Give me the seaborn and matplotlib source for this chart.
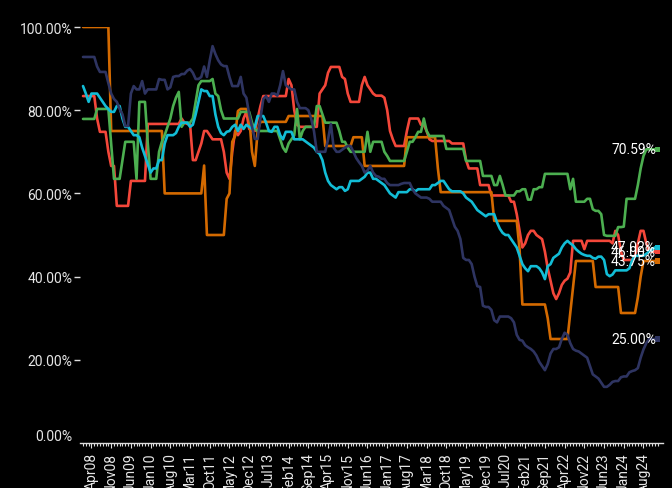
import matplotlib
matplotlib.use("Agg")
import matplotlib.pyplot as plt
import seaborn as sns
import pandas as pd
import numpy as np

# ---------------- data (monthly, Jan 2008 -> Jan 2025) ----------------
start_month = "2008-01"
n_months = 205

orange_vals = [
    100, 100, 100, 100, 100, 100, 100, 100, 100, 100,
    75, 75, 75, 75, 75, 75, 75, 75, 75, 75,
    75, 75, 75, 75, 75, 75, 75, 75, 75, 60,
    60, 60, 60, 60, 60, 60, 60, 60, 60, 60,
    60, 60, 60, 66.7, 50, 50, 50, 50, 50, 50,
    50, 58.7, 60, 72.4, 73.8, 79.8, 80.3, 80.3, 80.3, 78.4,
    70, 66.6, 75, 77.2, 77.2, 77.2, 77.2, 77.2, 77.2, 77.2,
    77.2, 77.2, 77.2, 78.6, 78.6, 78.6, 78.6, 78.6, 78.6, 78.6,
    78.6, 78.6, 78.6, 78.6, 78.6, 78.6, 71.4, 71.4, 71.4, 71.4,
    71.4, 71.4, 71.4, 71.4, 71.4, 71.4, 73.5, 73.5, 73.5, 73.5,
    66.6, 66.6, 66.6, 66.6, 66.6, 66.6, 66.6, 66.6, 66.6, 66.6,
    66.6, 66.6, 66.6, 66.6, 66.6, 73.5, 73.5, 73.5, 73.5, 73.5,
    73.5, 73.5, 73.5, 73.5, 73.5, 73.5, 66, 60.3, 60.3, 60.3,
    60.3, 60.3, 60.3, 60.3, 60.3, 60.3, 60.3, 60.3, 60.3, 60.3,
    60.3, 60.3, 60.3, 60.3, 60.3, 60.3, 53.4, 53.4, 53.4, 53.4,
    53.4, 53.4, 53.4, 53.4, 53.4, 46.6, 33.3, 33.3, 33.3, 33.3,
    33.3, 33.3, 33.3, 33.3, 33.3, 30, 25, 25, 25, 25,
    25, 25, 25, 31.3, 37.5, 43.75, 43.75, 43.75, 43.75, 43.75,
    43.75, 43.75, 37.5, 37.5, 37.5, 37.5, 37.5, 37.5, 37.5, 37.5,
    37.5, 31.25, 31.25, 31.25, 31.25, 31.25, 31.25, 35, 40, 43.75,
    43.75, 43.75, 43.75, 43.75, 43.75,
]

red_vals = [
    83.4, 83.4, 83.4, 83.4, 83.4, 78, 74.8, 74.8, 74.8, 70,
    66.6, 66.6, 57, 57, 57, 57, 57, 63, 63, 63,
    63, 63, 63, 76.7, 76.7, 76.7, 76.7, 76.7, 76.7, 76.7,
    76.7, 76.7, 76.7, 76.7, 76.7, 78, 77, 76.7, 76.7, 68,
    68, 70, 72, 75, 75, 74, 73, 73, 73, 73,
    70, 65, 63.5, 70, 75, 74, 75, 78, 79.6, 75.5,
    75, 75, 78, 81, 83.4, 83.4, 83.4, 83.4, 83.4, 83.4,
    83.4, 83.4, 83.4, 87.5, 86, 80, 76.5, 76, 76, 76,
    76, 76, 76, 76, 84, 85, 86, 89, 90.4, 90.4,
    90.4, 90.4, 88, 87.5, 84, 82, 82, 82, 82, 86,
    88, 86, 85, 84, 83.5, 83.5, 83.5, 83, 80, 75,
    73, 71.4, 71.4, 71.4, 71.4, 75, 78, 78, 78, 78,
    76.5, 76.5, 75, 73, 72.6, 72.6, 72.6, 72.6, 72.6, 72.6,
    72.6, 72, 72, 72, 72, 72, 68, 66, 66, 66,
    66, 62, 62, 62, 62, 59.5, 59.5, 59.5, 59.5, 59.5,
    59.5, 59.5, 58, 58, 55, 51, 47, 48, 50, 51,
    51, 50, 49.5, 49, 46, 42, 39, 36, 34.6, 36,
    38, 39, 39.5, 41, 48.6, 48.6, 48.6, 48.6, 46.6, 48.6,
    48.6, 48.6, 48.6, 48.6, 48.6, 48.6, 48.6, 48.6, 48, 51,
    50, 46, 44, 44, 44, 44, 45, 48, 51, 51,
    48, 46, 46, 46, 46,
]

green_vals = [
    77.9, 77.9, 77.9, 77.9, 77.9, 80.3, 80.3, 80.3, 80.3, 80.3,
    72, 63.5, 63.5, 63.5, 68, 72.4, 72.4, 72.4, 72.4, 63.5,
    82, 82, 82, 72, 63.5, 63.5, 63.5, 70, 72.4, 74,
    76, 78, 81, 83, 84.4, 76, 77, 77, 77, 78,
    82, 86, 87, 87, 87, 87, 87.5, 84, 83.4, 80,
    78, 78, 78, 78, 78, 78, 79.6, 79.6, 79.6, 79.6,
    77, 75.5, 75, 75, 75, 75, 75, 75, 75, 75,
    73, 71, 70, 72, 73, 74, 80.3, 73, 75, 76,
    76, 76, 76, 81, 81, 79, 77, 77, 77, 77,
    77, 75, 72.4, 72.4, 71, 70, 70, 70, 70, 70,
    70, 74.8, 70, 72.4, 72.4, 72.4, 72.4, 70, 69, 67.8,
    67.8, 67.8, 67.8, 67.8, 67.8, 70, 72.4, 72.4, 73.5, 74.8,
    74.8, 78, 75, 73.8, 73.8, 73.8, 73.8, 73.8, 73.8, 70.7,
    70.7, 70.7, 70.7, 70.7, 70.7, 70.7, 67.8, 67.8, 67.8, 67.8,
    67.8, 67.8, 64.2, 64.2, 64.2, 64.2, 62, 62, 64.2, 62,
    59.5, 59.5, 59.5, 59.5, 60.5, 60.5, 61, 61, 58.5, 58.5,
    61, 61, 61.5, 61.5, 64.7, 64.7, 64.7, 64.7, 64.7, 64.7,
    64.7, 64.7, 64.7, 61, 63.5, 58, 58, 58, 58, 58.7,
    58.7, 56.2, 55.8, 55.8, 55, 50, 49.8, 49.8, 49.8, 49.8,
    51.9, 51.9, 52, 58.7, 58.7, 58.7, 58.7, 62, 66, 69,
    70.59, 70.59, 70.59, 70.59, 70.59,
]

cyan_vals = [
    85.8, 84, 82, 84, 84, 84, 83, 82, 81, 80.3,
    79.6, 79.6, 81, 81, 78, 76, 76, 75, 74, 74,
    73.5, 71, 69, 67, 65, 66, 66, 68, 68, 72,
    74, 74, 74, 74.5, 76, 77, 77, 77, 76, 76.5,
    79, 82, 85, 84.6, 84.6, 83.4, 83.4, 79, 76, 74.5,
    74, 74.8, 75, 76, 76.5, 75, 76.5, 75.5, 76.5, 76,
    75.5, 76, 78.6, 78.6, 78.6, 77, 75, 74.8, 76, 76,
    74, 73, 74.8, 74.8, 74.8, 73, 73, 73, 73, 72.5,
    72, 71.5, 71, 70, 69.5, 68, 65, 63, 62, 61.5,
    61, 61.5, 61.5, 60.6, 61, 63, 63, 63, 63, 63.5,
    64, 65, 65, 63.5, 63.5, 63, 62.5, 62, 61, 60,
    59.5, 59, 60.3, 60.3, 60.3, 60.3, 61, 61, 60.5, 61,
    61, 61, 61, 61, 62, 62, 62.5, 63, 63, 62,
    61, 60.5, 60.5, 60.5, 60.5, 60, 59, 58.5, 58, 57,
    56, 55.5, 55, 54.5, 55, 55, 55, 53, 51.5, 50.5,
    50, 50, 49, 48, 47, 45, 43, 42, 41.3, 42.5,
    42.5, 42.5, 42, 41, 39.4, 42.5, 43, 44.5, 45, 45.5,
    47, 48, 48.6, 48, 47.5, 46.6, 46, 45.5, 45.2, 45,
    45, 44.5, 44.3, 44.8, 44.8, 44, 40.6, 40.1, 40.5, 41.5,
    41.5, 41.5, 41.5, 41.5, 42, 44, 45, 45, 45, 45,
    45.5, 46, 46.5, 47, 47.02,
]

navy_vals = [
    92.8, 92.8, 92.8, 92.8, 92.8, 90.5, 89.2, 89.2, 89.2, 86.5,
    84, 82.7, 82, 80.3, 79, 76.2, 76.2, 84, 85.8, 85,
    85, 87, 84, 85, 85, 85, 85, 87.5, 87.3, 87.3,
    85, 85.5, 88, 88.2, 88.2, 88.7, 88.7, 89.5, 89.9, 89,
    87.5, 87.5, 88, 90.5, 88, 92, 95.4, 93.5, 92, 91,
    90.6, 90.6, 88, 85.8, 85.8, 85.8, 88, 84, 83, 79,
    76, 73.1, 73.1, 78, 82.7, 83.4, 82, 84, 84, 83.5,
    86, 89.4, 86, 85.5, 85, 85, 82, 80.5, 80.5, 80.5,
    80, 78, 75, 70, 70, 70, 70, 73, 76.7, 71,
    70, 70, 70.5, 71, 71.4, 71.4, 70, 68.5, 67.5, 66.6,
    65, 65.5, 66.6, 65, 64.2, 64, 63.5, 63.5, 62.5, 62,
    62, 62, 62, 62.3, 62.5, 62.5, 62.5, 61, 60, 59.5,
    59, 59, 59, 58.7, 58, 58, 58, 58, 57, 56.5,
    56, 54, 52, 51, 49, 44.5, 44, 44, 43, 40,
    37.7, 37.5, 33, 32.7, 32.7, 32, 29.5, 29, 30.4, 30.4,
    30.4, 30.4, 30, 29, 26, 24.8, 24.6, 23.5, 23, 22.6,
    22, 21, 19.5, 18.5, 17.5, 19, 21.5, 22.6, 22.6, 23,
    25, 26.5, 26, 24, 22.6, 22.2, 22, 21.5, 21, 20.5,
    18.5, 16.5, 16, 15.5, 14.5, 13.5, 13.5, 14, 14.7, 14.9,
    14.9, 15.8, 16, 16, 17, 17.3, 17.5, 18, 20.5, 22.5,
    24, 25, 25, 25, 25,
]

series_names = ["orange", "red", "green", "cyan", "navy"]
series_vals = [orange_vals, red_vals, green_vals, cyan_vals, navy_vals]
colors = {"orange": "#d46a00", "red": "#f4473a", "green": "#4caf50",
          "cyan": "#12bdd6", "navy": "#2e3461"}
y_ticks = [20, 40, 60, 80, 100]

# ---------------- build table ----------------
months = pd.date_range(start_month, periods=n_months, freq="MS")
rows = []
for name, vals in zip(series_names, series_vals):
    for i, v in enumerate(vals):
        rows.append({"idx": i, "value": v, "series": name})
df = pd.DataFrame(rows)

# ---------------- figure ----------------
sns.set_theme(style="dark")
plt.rcParams["font.family"] = ["Roboto", "DejaVu Sans"]
txt = "#e6e6e6"

W, H = 672, 489
fig = plt.figure(figsize=(W / 100, H / 100), dpi=100, facecolor="black")
x0, x1 = 80.2, 663.2
y_top, y_zero = 28, 444
ax = fig.add_axes([x0 / W, (H - y_zero) / H, (x1 - x0) / W, (y_zero - y_top) / H])
ax.set_facecolor("black")

sns.lineplot(data=df, x="idx", y="value", hue="series",
             hue_order=["red", "orange", "green", "cyan", "navy"],
             palette=colors, linewidth=1.9, legend=False, ax=ax,
             estimator=None)

last = df[df["idx"] == n_months - 1]
sns.scatterplot(data=last, x="idx", y="value", hue="series", palette=colors,
                marker="s", s=14, linewidth=0, legend=False, ax=ax, zorder=5)
for _, r in last.iterrows():
    ax.text(r["idx"] - 0.6, r["value"], f"{r['value']:.2f}%", ha="right",
            va="center", color="white", fontsize=10, zorder=6)

ax.set_xlim(-1, n_months + 1)
ax.set_ylim(0, 100)
ax.grid(False)
for s in ["left", "top", "right"]:
    ax.spines[s].set_visible(False)
ax.spines["bottom"].set_color("#dddddd")
ax.spines["bottom"].set_linewidth(1)

# y axis
ax.set_yticks(y_ticks)
ax.set_yticklabels([f"{v:.2f}%" for v in y_ticks])
ax.tick_params(axis="y", colors="#dddddd", labelcolor=txt, length=4.3,
               width=1, pad=1.5, labelsize=10, left=True)
fig.text(72 / W, 1 - 437 / H, "0.00%", ha="right", va="center",
         color=txt, fontsize=10)

# x axis
major_idx = list(range(3, n_months, 7))
ax.set_xticks(major_idx)
ax.set_xticklabels([months[i].strftime("%b%y") for i in major_idx], rotation=90)
ax.set_xticks(range(0, n_months), minor=True)
ax.tick_params(axis="x", which="major", colors="#dddddd", labelcolor=txt,
               length=3.5, width=0.8, pad=3, labelsize=10, bottom=True)
ax.tick_params(axis="x", which="minor", colors="#dddddd", length=2.2,
               width=0.8, bottom=True)
ax.set_xlabel("")
ax.set_ylabel("")

fig.savefig("out.png", dpi=100, facecolor="black")
